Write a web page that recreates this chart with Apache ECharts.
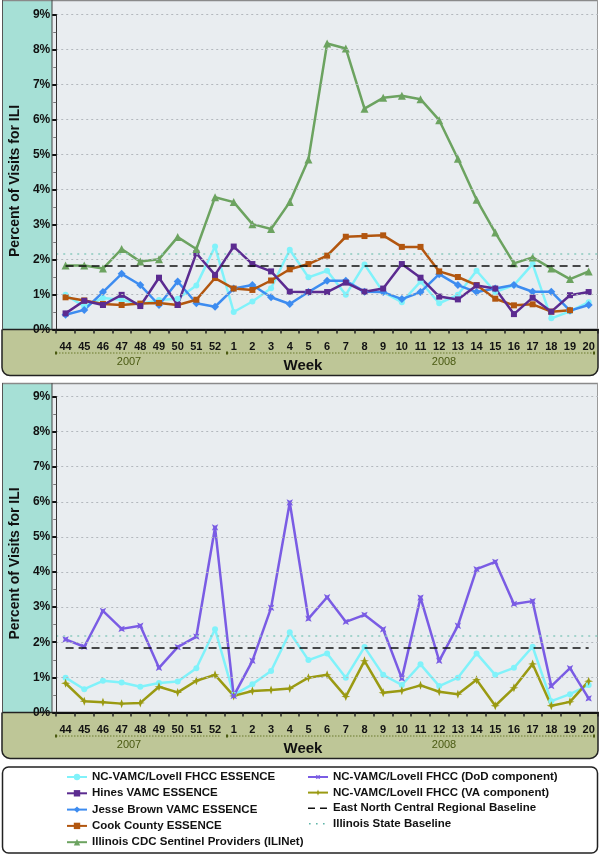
<!DOCTYPE html>
<html><head><meta charset="utf-8">
<script src="https://cdn.jsdelivr.net/npm/echarts@6/dist/echarts.min.js"></script>
<style>html,body{margin:0;padding:0;background:#fff}#c{width:600px;height:856px}</style>
</head><body><div id="c"></div>
<script>
// ---- data ----
const weeks = ['44','45','46','47','48','49','50','51','52','1','2','3','4','5','6','7','8','9','10','11','12','13','14','15','16','17','18','19','20'];
const years = ['2007', '2008'];
const ncVamcEssence = [0.99,0.66,0.90,0.85,0.73,0.84,0.88,1.26,2.37,0.50,0.80,1.18,2.28,1.49,1.68,0.99,1.86,1.07,0.78,1.37,0.75,0.99,1.68,1.07,1.27,1.87,0.32,0.52,0.78];
const hinesEssence = [0.46,0.82,0.70,0.99,0.67,1.48,0.70,2.18,1.56,2.37,1.87,1.66,1.08,1.07,1.07,1.34,1.08,1.17,1.87,1.48,0.94,0.86,1.26,1.17,0.44,0.91,0.51,0.98,1.07];
const jesseBrownEssence = [0.42,0.56,1.07,1.59,1.27,0.70,1.37,0.75,0.65,1.17,1.27,0.92,0.73,1.07,1.39,1.39,1.08,1.07,0.87,1.07,1.58,1.27,1.07,1.17,1.27,1.08,1.08,0.54,0.70];
const cookCountyEssence = [0.92,0.83,0.73,0.70,0.74,0.76,0.70,0.85,1.47,1.17,1.13,1.40,1.72,1.87,2.11,2.65,2.67,2.69,2.36,2.36,1.66,1.50,1.27,0.88,0.69,0.72,0.51,0.55,null];
const iliNet = [1.83,1.83,1.74,2.30,1.94,2.01,2.64,2.30,3.78,3.64,3.01,2.87,3.64,4.86,8.17,8.03,6.31,6.62,6.68,6.58,5.98,4.88,3.71,2.77,1.89,2.06,1.74,1.44,1.66];
const dodComponent = [2.08,1.87,2.89,2.38,2.47,1.27,1.86,2.16,5.27,0.47,1.47,2.98,5.98,2.67,3.28,2.58,2.78,2.37,0.97,3.27,1.47,2.47,4.08,4.29,3.09,3.17,0.75,1.26,0.40];
const vaComponent = [0.83,0.32,0.29,0.25,0.27,0.73,0.57,0.90,1.07,0.47,0.61,0.64,0.68,0.99,1.07,0.45,1.47,0.56,0.62,0.77,0.59,0.52,0.93,0.19,0.70,1.38,0.19,0.30,0.89];
const encBaseline = 1.83;
const illinoisBaseline = 2.17;
const yMax = 9;

// ---- names ----
const N_NC = 'NC-VAMC/Lovell FHCC ESSENCE';
const N_HINES = 'Hines VAMC ESSENCE';
const N_JB = 'Jesse Brown VAMC ESSENCE';
const N_COOK = 'Cook County ESSENCE';
const N_ILI = 'Illinois CDC Sentinel Providers (ILINet)';
const N_DOD = 'NC-VAMC/Lovell FHCC (DoD component)';
const N_VA = 'NC-VAMC/Lovell FHCC (VA component)';
const N_ENC = 'East North Central Regional Baseline';
const N_IL = 'Illinois State Baseline';

const FS = "'Liberation Sans',Arial,sans-serif";

const C = {nc:'#80f2fa', hines:'#5b2b90', jb:'#3d8cf0', cook:'#b2560f', ili:'#6ca360', dod:'#7a5ce4', va:'#9a9a12'};

const chart = echarts.init(document.getElementById('c'));

function xAx(i){
  return {
    type:'category', gridIndex:i, data:weeks, boundaryGap:true, z:5,
    axisLine:{lineStyle:{color:'#111', width:2}},
    axisTick:{show:true, length:4, lineStyle:{color:'#222', width:1.5}},
    axisLabel:{interval:0, margin:12, fontSize:11, fontWeight:'bold', fontFamily:FS, color:'#111'},
    splitLine:{show:false}
  };
}
function yAx(i){
  return {
    type:'value', gridIndex:i, min:0, max:yMax, interval:1, z:5,
    name:'Percent of Visits for ILI', nameLocation:'middle', nameGap:30,
    nameTextStyle:{fontSize:14, fontWeight:'bold', fontFamily:FS, color:'#111', padding:[0,18,0,0]},
    axisLine:{show:true, lineStyle:{color:'#333', width:1}},
    axisTick:{show:true, length:4, lineStyle:{color:'#111', width:2}},
    minorTick:{show:true, splitNumber:2, length:3, lineStyle:{color:'#777', width:1}},
    axisLabel:{formatter:'{value}%', fontSize:12, fontWeight:'bold', fontFamily:FS, color:'#111', margin:6},
    splitLine:{show:true, lineStyle:{type:[2,3], color:'#b3b8bd', width:1}}
  };
}
function lineS(name, data, color, symbol, size, gi, extra){
  return Object.assign({
    name, type:'line', data, xAxisIndex:gi, yAxisIndex:gi,
    symbol, symbolSize:size, showSymbol:true, connectNulls:false,
    lineStyle:{color, width:2.5}, itemStyle:{color},
    z:3, animation:false
  }, extra||{});
}
function encS(gi){
  return {
    name:N_ENC, type:'line', data:[], xAxisIndex:gi, yAxisIndex:gi, symbol:'none',
    lineStyle:{color:'#111', width:1.5, type:[8,5]}, itemStyle:{color:'#111'}, animation:false,
    markLine:{silent:true, symbol:['none','none'], label:{show:false},
      lineStyle:{color:'#111', width:1.5, type:[8,5]},
      data:[[{coord:[weeks[0], encBaseline]},{coord:[weeks[weeks.length-1], encBaseline]}]]}
  };
}
function ilS(gi){
  return {
    name:N_IL, type:'line', data:[], xAxisIndex:gi, yAxisIndex:gi, symbol:'none',
    lineStyle:{color:'#5fb5a8', width:1.5, type:[2,5]}, itemStyle:{color:'#5fb5a8'}, animation:false,
    markLine:{silent:true, symbol:['none','none'], label:{show:false},
      lineStyle:{color:'#8ccabf', width:1.5, type:[2,5]},
      data:[{yAxis:illinoisBaseline}]}
  };
}

const starPath = 'path://M0,-5L1.4,-1.4L5,0L1.4,1.4L0,5L-1.4,1.4L-5,0L-1.4,-1.4Z';
const crossPath = 'path://M0,-6L1.2,-1.2L4,0L1.2,1.2L0,6L-1.2,1.2L-4,0L-1.2,-1.2Z';
const dashIcon = 'path://M0,0h0.01v0.01h-0.01z M20,8h0.01v0.01h-0.01z M0,3.2h7v1.6h-7z M12,3.2h7v1.6h-7z';
const dotIcon = 'path://M0,0h0.01v0.01h-0.01z M20,8h0.01v0.01h-0.01z M1,3.2h1.6v1.6h-1.6z M8,3.2h1.6v1.6h-1.6z M15,3.2h1.6v1.6h-1.6z';

// ---- frames (styling only) ----
function panel(y0, plotH){
  return [
    {type:'rect', z:-10, shape:{x:52, y:y0, width:546, height:plotH}, style:{fill:'#e9edf0'}},
    {type:'rect', z:-10, shape:{x:2, y:y0, width:50, height:plotH}, style:{fill:'#a6e0d6'}},
    {type:'line', z:-9, shape:{x1:2, y1:y0+0.5, x2:598, y2:y0+0.5}, style:{stroke:'#8a8a8a', lineWidth:1.5}},
    {type:'line', z:-9, shape:{x1:597.5, y1:y0, x2:597.5, y2:y0+plotH}, style:{stroke:'#9a9a9a', lineWidth:1}},
    {type:'line', z:-9, shape:{x1:2.5, y1:y0, x2:2.5, y2:y0+plotH}, style:{stroke:'#555', lineWidth:1}},
    {type:'line', z:-9, shape:{x1:52, y1:y0, x2:52, y2:y0+plotH}, style:{stroke:'#444', lineWidth:1}},
    {type:'rect', z:-10, shape:{x:2, y:y0+plotH, width:596, height:46, r:[0,0,8,8]}, style:{fill:'#bec697', stroke:'#222', lineWidth:1.5}}
  ];
}
function yearDeco(yLine, yText){
  const st = {stroke:'#6b7a2c', lineWidth:1, lineDash:[1.5,1.5]};
  return [
    {type:'line', z:20, shape:{x1:56, y1:yLine, x2:221, y2:yLine}, style:st},
    {type:'line', z:20, shape:{x1:227, y1:yLine, x2:594, y2:yLine}, style:st},
    {type:'rect', z:20, shape:{x:55, y:yLine-1.5, width:2, height:3}, style:{fill:'#4a5a10'}},
    {type:'rect', z:20, shape:{x:226, y:yLine-1.5, width:2, height:3}, style:{fill:'#4a5a10'}},
    {type:'rect', z:20, shape:{x:593, y:yLine-1.5, width:2, height:3}, style:{fill:'#4a5a10'}},
    {type:'text', z:20, x:129, y:yText, style:{text:years[0], fill:'#4a5a12', font:"11px "+FS, align:'center', verticalAlign:'middle'}},
    {type:'text', z:20, x:444, y:yText, style:{text:years[1], fill:'#4a5a12', font:"11px "+FS, align:'center', verticalAlign:'middle'}},
    {type:'text', z:20, x:303, y:yText+4, style:{text:'Week', fill:'#111', font:"bold 15px "+FS, align:'center', verticalAlign:'middle'}}
  ];
}

const graphic = [].concat(
  panel(0, 329.5), yearDeco(353, 362),
  panel(383, 329.4), yearDeco(736, 745),
  [{type:'rect', z:-10, shape:{x:2.5, y:767, width:595, height:86, r:6}, style:{fill:'#fff', stroke:'#222', lineWidth:1.5}}]
);

const legendText = {fontSize:11.5, fontWeight:'bold', fontFamily:FS, color:'#111', lineHeight:14};

const option = {
  animation:false,
  backgroundColor:'#fff',
  graphic:{elements:graphic},
  grid:[
    {left:52, right:2, top:14.5, height:315, containLabel:false},
    {left:52, right:2, top:396.5, height:315.9, containLabel:false}
  ],
  xAxis:[xAx(0), xAx(1)],
  yAxis:[yAx(0), yAx(1)],
  legend:[
    {orient:'vertical', left:66, top:770, padding:0, height:84, itemWidth:20, itemHeight:8, itemGap:2.3,
     data:[N_NC, N_HINES, N_JB, N_COOK, N_ILI], textStyle:legendText, selectedMode:false},
    {orient:'vertical', left:307, top:770, padding:0, height:84, itemWidth:20, itemHeight:8, itemGap:1.6,
     data:[N_DOD, N_VA, {name:N_ENC, icon:dashIcon}, {name:N_IL, icon:dotIcon}], textStyle:legendText, selectedMode:false}
  ],
  series:[
    ilS(0), encS(0),
    lineS(N_NC, ncVamcEssence, C.nc, 'circle', 6, 0),
    lineS(N_JB, jesseBrownEssence, C.jb, 'diamond', 8, 0),
    lineS(N_COOK, cookCountyEssence, C.cook, 'rect', 6, 0),
    lineS(N_HINES, hinesEssence, C.hines, 'rect', 6, 0),
    lineS(N_ILI, iliNet, C.ili, 'triangle', 8, 0),
    ilS(1), encS(1),
    lineS(N_NC, ncVamcEssence, C.nc, 'circle', 6, 1),
    lineS(N_VA, vaComponent, C.va, crossPath, 9, 1),
    lineS(N_DOD, dodComponent, C.dod, starPath, 9, 1, {symbolRotate:45})
  ]
};
chart.setOption(option);
</script></body></html>
